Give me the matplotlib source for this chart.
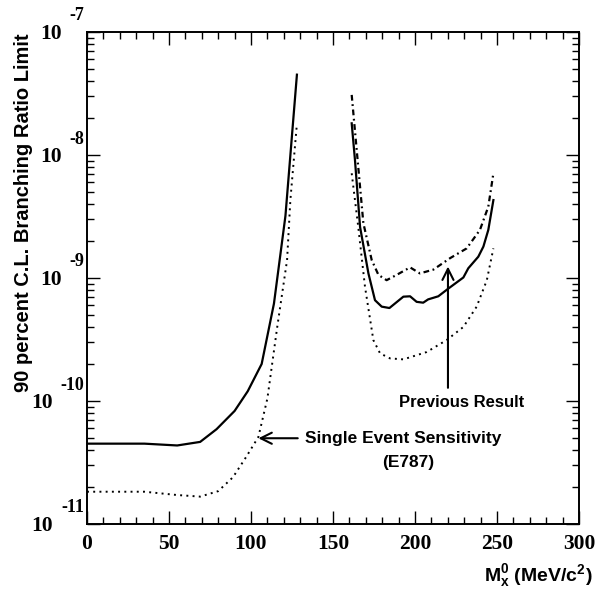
import matplotlib
matplotlib.use("Agg")
import matplotlib.pyplot as plt
from matplotlib.ticker import FixedLocator, MultipleLocator, NullFormatter

plt.rcParams['mathtext.fontset'] = 'custom'
plt.rcParams['mathtext.rm'] = 'Liberation Sans:bold'
plt.rcParams['mathtext.it'] = 'Liberation Sans:bold'
plt.rcParams['mathtext.bf'] = 'Liberation Sans:bold'

# lower mass region (solid = limit, dotted = single event sensitivity)
mass_lo = [0, 35, 55, 69, 79, 90, 98, 106.5, 114, 121, 128]
limit_lo = [4.5e-11, 4.5e-11, 4.35e-11, 4.65e-11, 5.9e-11, 8.3e-11, 1.2e-10,
            2.0e-10, 6.2e-10, 3.2e-9, 4.5e-8]
ses_mass_lo = [0, 35, 55, 69, 80, 89, 97, 104.5, 110, 116, 122, 124, 128]
ses_lo = [1.83e-11, 1.83e-11, 1.72e-11, 1.67e-11, 1.85e-11, 2.4e-11, 3.5e-11,
          5.1e-11, 1.05e-10, 4.0e-10, 1.4e-9, 4.3e-9, 1.8e-8]

# upper mass region
mass_hi = [161.4, 163.4, 166.5, 171.6, 175.6, 179.7, 184.4, 192.9, 197, 201,
           205, 208, 214.2, 220.3, 229.5, 232.5, 238.6, 241.7, 244.7, 247.8]
limit_hi = [1.81e-8, 9.1e-9, 2.6e-9, 1.09e-9, 6.6e-10, 5.85e-10, 5.7e-10,
            7.05e-10, 7.1e-10, 6.4e-10, 6.3e-10, 6.7e-10, 7.1e-10, 8.2e-10,
            1.01e-9, 1.2e-9, 1.49e-9, 1.8e-9, 2.46e-9, 4.3e-9]
prev_mass = [161.4, 168.5, 173.6, 177.7, 182.7, 188.8, 197, 203, 211.2,
             221.4, 231.5, 239.6, 244.7, 247.8]
prev_hi = [3.08e-8, 2.8e-9, 1.4e-9, 1.06e-9, 9.6e-10, 1.06e-9, 1.22e-9,
           1.09e-9, 1.17e-9, 1.45e-9, 1.74e-9, 2.46e-9, 3.8e-9, 7.1e-9]
ses_mass_hi = [161.4, 165.4, 169.5, 174.6, 178.7, 184.8, 192.9, 207.1, 219.3,
               229.5, 237.6, 243.8, 247.8]
ses_hi = [7.1e-9, 2.6e-9, 8.5e-10, 3.13e-10, 2.44e-10, 2.22e-10, 2.18e-10,
          2.5e-10, 3.13e-10, 4.0e-10, 5.85e-10, 9.6e-10, 1.74e-9]

decades = [-11, -10, -9, -8, -7]
x_ticks = [0, 50, 100, 150, 200, 250, 300]

fig = plt.figure(figsize=(6.03, 5.92), dpi=100)
ax = fig.add_axes([87/603, 1-524/592, 492/603, 492/592])

dots = (0, (1, 2.2))
dashdot = (0, (2.6, 1.6, 0.8, 1.6))
ax.plot(mass_lo, limit_lo, color='black', lw=1.6)
ax.plot(ses_mass_lo, ses_lo, color='black', lw=1.4, ls=dots)
ax.plot(mass_hi, limit_hi, color='black', lw=1.6)
ax.plot(ses_mass_hi, ses_hi, color='black', lw=1.4, ls=dots)
ax.plot(prev_mass, prev_hi, color='black', lw=1.6, ls=dashdot)

ax.set_yscale('log')
ax.set_xlim(0, 300)
ax.set_ylim(1e-11, 1e-7)

ax.xaxis.set_major_locator(FixedLocator(x_ticks))
ax.xaxis.set_minor_locator(MultipleLocator(10))
ax.yaxis.set_major_locator(FixedLocator([10.0**d for d in decades]))
ax.yaxis.set_minor_locator(FixedLocator([k*10.0**d for d in decades[:-1] for k in range(2, 10)]))
ax.yaxis.set_major_formatter(NullFormatter())
ax.yaxis.set_minor_formatter(NullFormatter())
ax.tick_params(which='both', direction='in', top=True, right=True, width=1.0)
ax.tick_params(which='major', length=9.2)
ax.tick_params(which='minor', length=5)
ax.tick_params(axis='x', pad=7, labelsize=15.5)
for lab in ax.get_xticklabels():
    lab.set_fontfamily('Liberation Serif')
    lab.set_fontweight('bold')
for s in ax.spines.values():
    s.set_linewidth(1.4)

# ROOT style "10^n" labels
for d in decades:
    ax.annotate('10', xy=(0, 10.0**d), xycoords=('axes fraction', 'data'),
                xytext=(-25 if d > -10 else -34, -2), textcoords='offset pixels',
                ha='right', va='center', fontsize=15.5, fontweight='bold',
                family='Liberation Serif')
    ax.annotate(str(d), xy=(0, 10.0**d), xycoords=('axes fraction', 'data'),
                xytext=(-3, 16), textcoords='offset pixels',
                ha='right', va='center', fontsize=13, fontweight='bold',
                family='Liberation Serif')

fig.text(24/603, 1-33/592, '90 percent C.L. Branching Ratio Limit', rotation=90,
         ha='center', va='top', fontsize=14.5, fontweight='bold',
         family='Liberation Sans')
fig.text(593/603, 1-576/592, r'$\mathrm{M_x^0}$ (MeV/c$^\mathrm{2}$)', ha='right',
         va='center', fontsize=14, fontweight='bold', family='Liberation Sans')

# annotations
ax.annotate('', xy=(104.5, 4.98e-11), xytext=(128.5, 4.98e-11),
            arrowprops=dict(arrowstyle='->', lw=1.5, color='black', mutation_scale=20,
                            shrinkA=0, shrinkB=0))
ax.text(133, 4.98e-11, 'Single Event Sensitivity', ha='left', va='center',
        fontsize=12.5, fontweight='bold', family='Liberation Sans')
ax.text(195.7, 3.19e-11, '(E787)', ha='center', va='center',
        fontsize=12.5, fontweight='bold', family='Liberation Sans')
ax.annotate('', xy=(220.1, 1.24e-9), xytext=(220.1, 1.28e-10),
            arrowprops=dict(arrowstyle='->', lw=1.5, color='black', mutation_scale=20,
                            shrinkA=0, shrinkB=0))
ax.text(228.7, 9.8e-11, 'Previous Result', ha='center', va='center',
        fontsize=12, fontweight='bold', family='Liberation Sans')

fig.savefig('out.png', dpi=100)
